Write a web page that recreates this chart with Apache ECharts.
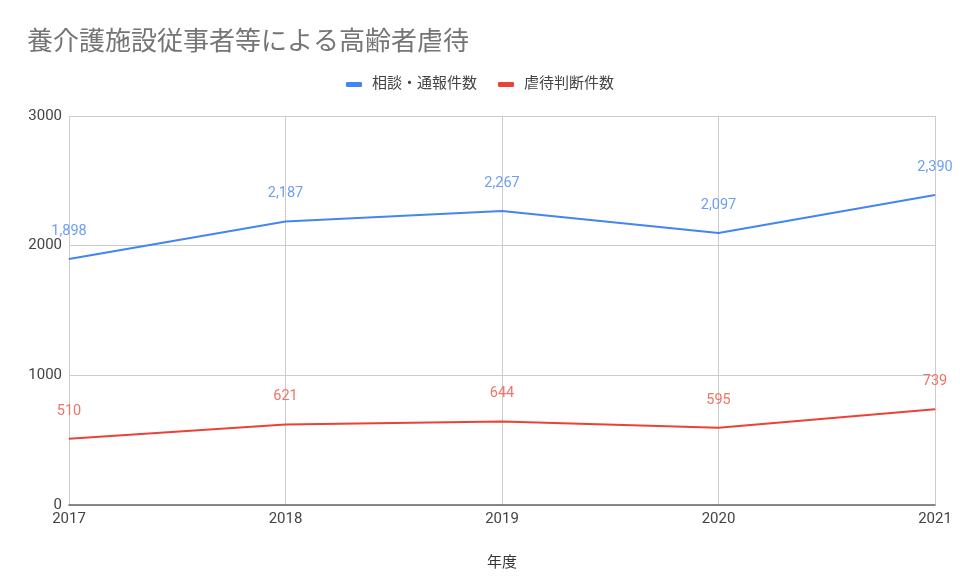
<!DOCTYPE html>
<html>
<head>
<meta charset="utf-8">
<script src="https://cdn.jsdelivr.net/npm/echarts@6/dist/echarts.min.js"></script>
<style>
  html, body { margin: 0; padding: 0; background: #fff; }
  #chart { width: 960px; height: 588px; }
</style>
</head>
<body>
<div id="chart"></div>
<script>
const years = ['2017', '2018', '2019', '2020', '2021']
const consultations = [1898, 2187, 2267, 2097, 2390]
const confirmed = [510, 621, 644, 595, 739]
const seriesNames = ['相談・通報件数', '虐待判断件数']

const FONT = 'Roboto, "Noto Sans CJK JP", sans-serif'

const chart = echarts.init(document.getElementById('chart'))

function lineSeries(name, data, color, labelColor) {
  return {
    name: name,
    type: 'line',
    data: data,
    symbol: 'circle',
    symbolSize: 1,
    lineStyle: { width: 2, color: color },
    itemStyle: { color: color },
    label: {
      show: true,
      position: 'top',
      distance: 20,
      color: labelColor,
      fontSize: 14.5,
      fontFamily: FONT,
      formatter: p => p.value.toLocaleString('en-US')
    },
    emphasis: { disabled: true }
  }
}

chart.setOption({
  animation: false,
  title: {
    text: '養介護施設従事者等による高齢者虐待',
    left: 22,
    top: 25,
    textStyle: { fontSize: 26, fontWeight: 'normal', color: '#757575', fontFamily: FONT }
  },
  legend: {
    data: seriesNames,
    top: 72,
    left: 'center',
    itemWidth: 16,
    itemHeight: 5,
    itemGap: 21,
    icon: 'roundRect',
    textStyle: { fontSize: 15, color: '#444', fontFamily: FONT, padding: [0, 0, 0, 5] }
  },
  grid: { left: 69, right: 25, top: 116, bottom: 83 },
  xAxis: {
    type: 'category',
    data: years,
    boundaryGap: false,
    name: '年度',
    nameLocation: 'middle',
    nameGap: 51,
    nameTextStyle: { fontSize: 15, color: '#333', fontFamily: FONT },
    axisLine: { lineStyle: { color: '#666', width: 1.5 } },
    axisTick: { show: false },
    axisLabel: { fontSize: 15, color: '#444', fontFamily: FONT, margin: 7 },
    splitLine: { show: true, lineStyle: { color: '#cccccc' } }
  },
  yAxis: {
    type: 'value',
    min: 0,
    max: 3000,
    interval: 1000,
    axisLine: { show: false },
    axisTick: { show: false },
    axisLabel: { fontSize: 15, color: '#444', fontFamily: FONT, margin: 7, formatter: v => String(v) },
    splitLine: { lineStyle: { color: '#cccccc' } }
  },
  series: [
    lineSeries(seriesNames[0], consultations, '#4285f4', '#6d9ef6'),
    lineSeries(seriesNames[1], confirmed, '#ea4335', '#f07468')
  ]
})
</script>
</body>
</html>
